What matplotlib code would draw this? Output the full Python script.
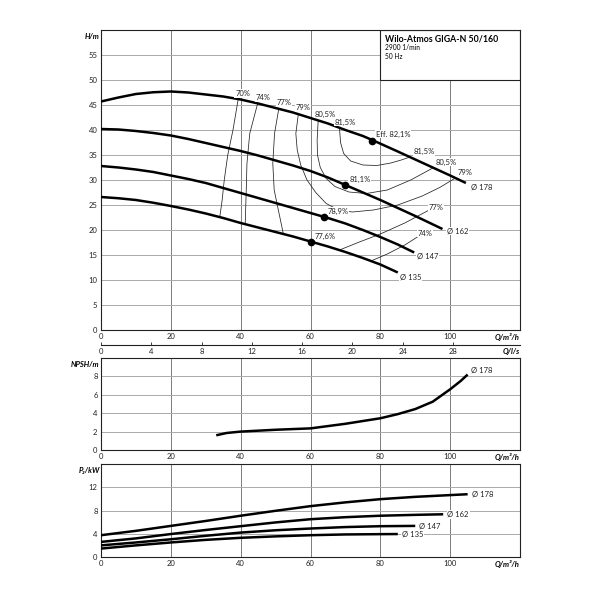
import matplotlib
matplotlib.use('Agg')
import matplotlib.pyplot as plt
from matplotlib.patches import Rectangle

plt.rcParams['font.family'] = ['Lato', 'DejaVu Sans']

# ---------------- data ----------------
# Head curves H (m) vs Q (m3/h)
q178 = [0, 5, 10, 15, 20, 25, 30, 35, 40, 45, 50, 55, 60, 65, 70, 75, 78, 85, 90, 95, 100, 104.5]
h178 = [45.7, 46.5, 47.2, 47.55, 47.7, 47.5, 47.1, 46.7, 46.1, 45.3, 44.4, 43.5, 42.4, 41.3,
        40.0, 38.8, 37.9, 35.7, 34.1, 32.5, 30.9, 29.4]
q162 = [0, 5, 10, 15, 20, 25, 30, 35, 40, 45, 50, 55, 60, 65, 70, 75, 80, 85, 90, 97.8]
h162 = [40.2, 40.1, 39.8, 39.4, 38.9, 38.2, 37.4, 36.6, 35.8, 34.9, 33.9, 32.9, 31.8, 30.5,
        29.0, 27.5, 26.0, 24.4, 22.8, 20.2]
q147 = [0, 5, 10, 15, 20, 25, 30, 35, 40, 45, 50, 55, 60, 65, 70, 75, 80, 85, 89.7]
h147 = [32.8, 32.5, 32.1, 31.6, 30.9, 30.2, 29.4, 28.4, 27.4, 26.4, 25.4, 24.4, 23.4, 22.4,
        21.3, 20.0, 18.6, 17.1, 15.5]
q135 = [0, 5, 10, 15, 20, 25, 30, 35, 40, 45, 50, 55, 60, 65, 70, 75, 80, 85]
h135 = [26.6, 26.35, 26.0, 25.45, 24.8, 24.1, 23.3, 22.4, 21.4, 20.5, 19.6, 18.7, 17.7, 16.7,
        15.6, 14.4, 13.1, 11.5]

# best efficiency points
bep_q = [77.7, 70.0, 63.8, 60.2]
bep_h = [37.9, 29.0, 22.7, 17.7]
bep_labels = ["Eff. 82,1%", "81,1%", "78,9%", "77,6%"]

# iso-efficiency lines
c70_q = [39.3, 37.8, 36.3, 35.3, 34.7, 34.0]
c70_h = [46.2, 40.0, 35.0, 30.0, 26.0, 22.5]
c74_q = [44.9, 42.6, 41.8, 41.6, 41.3]
c74_h = [45.4, 39.3, 33.3, 28.0, 21.1]
c77_q = [50.9, 49.7, 49.2, 49.6, 50.4, 52.2]
c77_h = [44.2, 39.3, 33.3, 28.0, 25.3, 19.3]
c79_q = [56.5, 55.8, 56.2, 57.2, 59.0, 61.5, 64.5, 68, 72, 78, 85, 92, 97, 101.5]
c79_h = [43.1, 39.3, 36.0, 33.0, 30.0, 27.5, 25.3, 24.0, 23.6, 24.0, 25.0, 26.8, 28.5, 30.4]
c805_q = [62.2, 61.9, 62.0, 62.8, 64.5, 67, 71, 76, 82, 88.7, 95.3]
c805_h = [41.9, 38.0, 35.0, 32.5, 30.3, 28.7, 27.6, 27.3, 28.0, 30.0, 32.5]
c815_q = [68.3, 68.6, 69.5, 71.5, 75, 79, 83, 86, 88.5]
c815_h = [40.5, 37.5, 35.3, 33.8, 33.0, 32.9, 33.4, 34.0, 34.6]
c77r_q = [68.3, 74, 80, 87, 94]
c77r_h = [16.0, 17.6, 19.2, 21.4, 24.0]
c74r_q = [77.3, 82, 87, 91.5]
c74r_h = [13.8, 15.2, 17.0, 19.0]

# NPSH (diameter 178)
npsh_q = [33, 36, 40, 45, 50, 60, 70, 80, 85, 90, 95, 100, 103, 105]
npsh_v = [1.6, 1.85, 2.0, 2.1, 2.2, 2.35, 2.85, 3.45, 3.9, 4.45, 5.25, 6.6, 7.5, 8.2]

# Power P2 (kW)
pq178 = [0, 10, 20, 30, 40, 50, 60, 70, 80, 90, 100, 105]
p178 = [3.75, 4.5, 5.35, 6.2, 7.1, 7.95, 8.75, 9.4, 9.95, 10.35, 10.65, 10.8]
pq162 = [0, 10, 20, 30, 40, 50, 60, 70, 80, 90, 98]
p162 = [2.6, 3.2, 3.95, 4.65, 5.3, 5.95, 6.5, 6.85, 7.1, 7.25, 7.35]
pq147 = [0, 10, 20, 30, 40, 50, 60, 70, 80, 90]
p147 = [2.0, 2.5, 3.05, 3.65, 4.2, 4.6, 4.9, 5.15, 5.3, 5.35]
pq135 = [0, 10, 20, 30, 40, 50, 60, 70, 80, 85]
p135 = [1.45, 2.0, 2.5, 2.95, 3.3, 3.55, 3.75, 3.88, 3.93, 3.95]

q_ticks = [0, 20, 40, 60, 80, 100]
h_ticks = [0, 5, 10, 15, 20, 25, 30, 35, 40, 45, 50, 55]
npsh_ticks = [0, 2, 4, 6, 8]
p_ticks = [0, 4, 8, 12]
ls_ticks = [0, 4, 8, 12, 16, 20, 24, 28]

# ---------------- figure ----------------
fig = plt.figure(figsize=(6, 6), dpi=100)
W, H = 600, 600
L, R = 101, 520


def add_ax(top, bottom):
    return fig.add_axes([L / W, (H - bottom) / H, (R - L) / W, (bottom - top) / H])


ax = add_ax(30, 330)
axn = add_ax(358, 450)
axp = add_ax(464, 557)

FS = 5.5
LBL = dict(fontsize=FS, fontweight='bold', fontstyle='italic')


def style(a, yt, ylim):
    a.set_xlim(0, 120)
    a.set_ylim(*ylim)
    a.set_xticks(q_ticks)
    a.set_yticks(yt)
    a.tick_params(length=0, labelsize=FS, pad=2.5, colors='#222')
    a.xaxis.grid(True, color='#666', lw=0.6)
    a.yaxis.grid(True, color='#aaa', lw=0.7)
    a.set_axisbelow(True)
    for s in a.spines.values():
        s.set_color('#222')
        s.set_linewidth(0.8)
    a.annotate('Q/m³/h', xy=(1, 0), xycoords='axes fraction', xytext=(0, -2.5),
               textcoords='offset points', ha='right', va='top', **LBL)


style(ax, h_ticks, (0, 60))
style(axn, npsh_ticks, (0, 10))
style(axp, p_ticks, (0, 16))

ax.annotate('H/m', xy=(0, 1), xycoords='axes fraction', xytext=(-1, -2),
            textcoords='offset points', ha='right', va='top', **LBL)
axn.annotate('NPSH/m', xy=(0, 1), xycoords='axes fraction', xytext=(-1, -2),
             textcoords='offset points', ha='right', va='top', **LBL)
axp.annotate('P₂/kW', xy=(0, 1), xycoords='axes fraction', xytext=(-1, -2),
             textcoords='offset points', ha='right', va='top', **LBL)

# secondary l/s axis
sec = ax.secondary_xaxis(-0.05, functions=(lambda q: q / 3.6, lambda l: l * 3.6))
sec.set_xticks(ls_ticks)
sec.tick_params(direction='in', length=2.5, width=0.6, labelsize=FS, pad=2, colors='#222')
sec.spines['bottom'].set_linewidth(0.8)
sec.spines['bottom'].set_color('#222')
ax.annotate('Q/l/s', xy=(1, -0.05), xycoords='axes fraction', xytext=(0, -2.5),
            textcoords='offset points', ha='right', va='top', **LBL)

THICK = 1.8
THIN = 0.55

# iso-efficiency lines
for cq, ch in [(c70_q, c70_h), (c74_q, c74_h), (c77_q, c77_h), (c79_q, c79_h),
               (c805_q, c805_h), (c815_q, c815_h), (c77r_q, c77r_h), (c74r_q, c74r_h)]:
    ax.plot(cq, ch, color='#222', lw=THIN, zorder=3)

# head curves
for cq, ch in [(q178, h178), (q162, h162), (q147, h147), (q135, h135)]:
    ax.plot(cq, ch, color='black', lw=THICK, solid_capstyle='butt', solid_joinstyle='round', zorder=4)
ax.plot(bep_q, bep_h, 'o', color='black', ms=4.5, zorder=5)

BB = dict(facecolor='white', edgecolor='none', pad=0.6)
TXT = dict(fontsize=FS, color='#222', zorder=6)

for txt, x, y in [('70%', 40.6, 47.3), ('74%', 46.5, 46.5), ('77%', 52.4, 45.5),
                  ('79%', 57.8, 44.4), ('80,5%', 64.2, 43.2), ('81,5%', 70.0, 41.6),
                  ('81,5%', 92.5, 35.7), ('80,5%', 99.0, 33.6), ('79%', 104.4, 31.5),
                  ('77%', 96.0, 24.6), ('74%', 92.8, 19.4)]:
    ax.text(x, y, txt, ha='center', va='center', bbox=BB, **TXT)

bep_off = [(1.1, 1.3), (1.1, 1.2), (1.1, 1.1), (1.0, 1.1)]
for (x, y), (dx, dy), t in zip(zip(bep_q, bep_h), bep_off, bep_labels):
    ax.text(x + dx, y + dy, t, ha='left', va='center', bbox=BB, **TXT)

for txt, x, y in [('Ø 178', q178[-1] + 1.4, h178[-1] - 0.7), ('Ø 162', q162[-1] + 1.2, h162[-1] - 0.4),
                  ('Ø 147', q147[-1] + 0.8, h147[-1] - 0.7), ('Ø 135', q135[-1] + 0.5, h135[-1] - 0.9)]:
    ax.text(x, y, txt, ha='left', va='center', bbox=BB, **TXT)

# info box
ax.add_patch(Rectangle((80, 50), 40, 10, facecolor='white', edgecolor='#222', lw=0.8, zorder=2.5))
ax.text(81.2, 58.3, 'Wilo-Atmos GIGA-N 50/160', fontsize=6.3, fontweight='bold',
        ha='left', va='center', zorder=6)
ax.text(81.2, 56.5, '2900 1/min', fontsize=4.8, ha='left', va='center', zorder=6)
ax.text(81.2, 54.7, '50 Hz', fontsize=4.8, ha='left', va='center', zorder=6)

# NPSH
axn.plot(npsh_q, npsh_v, color='black', lw=THICK, solid_capstyle='butt', solid_joinstyle='round', zorder=4)
axn.text(npsh_q[-1] + 1.0, npsh_v[-1] + 0.5, 'Ø 178', ha='left', va='center', bbox=BB, **TXT)

# Power
for cq, cp, lab in [(pq178, p178, 'Ø 178'), (pq162, p162, 'Ø 162'),
                    (pq147, p147, 'Ø 147'), (pq135, p135, 'Ø 135')]:
    axp.plot(cq, cp, color='black', lw=THICK, solid_capstyle='butt', solid_joinstyle='round', zorder=4)
    axp.text(cq[-1] + 1.2, cp[-1], lab, ha='left', va='center', bbox=BB, **TXT)

fig.savefig('out.png', dpi=100, facecolor='white')
